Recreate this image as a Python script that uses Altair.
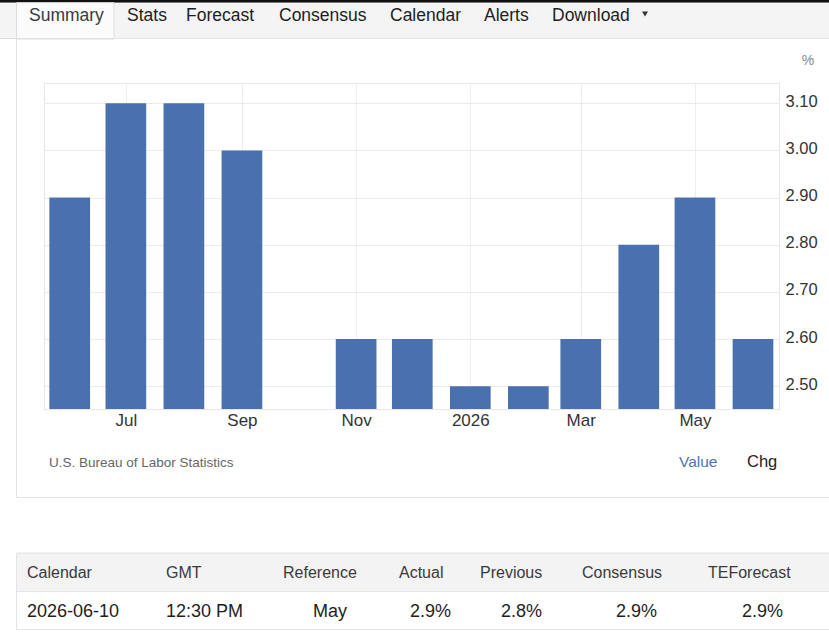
import altair as alt
import pandas as pd

# ---------------- data ----------------
months = ["2025-06-01", "2025-07-01", "2025-08-01", "2025-09-01",
          "2025-11-01", "2025-12-01", "2026-01-01", "2026-02-01",
          "2026-03-01", "2026-04-01", "2026-05-01", "2026-06-01"]
values = [2.9, 3.1, 3.1, 3.0, 2.6, 2.6, 2.5, 2.5, 2.6, 2.8, 2.9, 2.6]
x_tick_dates = ["2025-07-01", "2025-09-01", "2025-11-01",
                "2026-01-01", "2026-03-01", "2026-05-01"]
y_ticks = [2.5, 2.6, 2.7, 2.8, 2.9, 3.0, 3.1]
tabs = ["Summary", "Stats", "Forecast", "Consensus", "Calendar", "Alerts", "Download"]
table_headers = ["Calendar", "GMT", "Reference", "Actual", "Previous", "Consensus", "TEForecast"]
table_row = ["2026-06-10", "12:30 PM", "May", "2.9%", "2.8%", "2.9%", "2.9%"]
source_text = "U.S. Bureau of Labor Statistics"
unit_text = "%"
toggles = ["Value", "Chg"]

# ---------------- layout ----------------
FONT = "Liberation Sans, Arial, Helvetica, sans-serif"
W, H = 829, 636
OX, OY = 44, 83          # plot-area origin on the page
PW, PH = 735, 326        # plot-area size
BAR = "#4a71ae"

tab_x = [29, 127, 186, 279, 390, 484, 552]
head_x = [27, 166, 283, 399, 480, 582, 708]
row_pos = [(27, "left"), (166, "left"), (330, "center"), (451, "right"),
           (542, "right"), (657, "right"), (783, "right")]

df = pd.DataFrame({"month": months, "value": values})
one = alt.Data(values=[{"k": 1}])


def dt(s, h=0, m=0):
    y, mo, d = map(int, s.split("-"))
    return alt.DateTime(year=y, month=mo, date=d, hours=h, minutes=m, utc=True)


def rect(x1, y1, x2, y2, **style):
    return alt.Chart(one).mark_rect(**style).encode(
        x=alt.value(x1 - OX), x2=alt.value(x2 - OX),
        y=alt.value(y1 - OY), y2=alt.value(y2 - OY))


def hline(x1, x2, y, color):
    return alt.Chart(one).mark_rule(color=color, strokeWidth=1).encode(
        x=alt.value(x1 - OX), x2=alt.value(x2 - OX), y=alt.value(y - OY))


def vline(x, y1, y2, color):
    return alt.Chart(one).mark_rule(color=color, strokeWidth=1).encode(
        x=alt.value(x - OX), y=alt.value(y1 - OY), y2=alt.value(y2 - OY))


def text(s, x, y, size, color, align="left"):
    return alt.Chart(one).mark_text(
        text=s, align=align, baseline="middle", fontSize=size,
        color=color, font=FONT).encode(x=alt.value(x - OX), y=alt.value(y - OY))


layers = []
# top strip and tab bar
layers.append(rect(0, 0, W + 20, 2.7, fill="#111111"))
layers.append(rect(0, 2.7, W + 20, 38.5, fill="#f4f4f4"))
layers.append(hline(0, W + 20, 38.5, "#dddddd"))
layers.append(rect(16.5, 2.7, 114, 39, fill="#fbfbfb", stroke="#dddddd", strokeWidth=1))
for name, x in zip(tabs, tab_x):
    layers.append(text(name, x, 16, 17.5, "#3a3a3a" if name == "Summary" else "#1e1e1e"))
layers.append(alt.Chart(one).mark_point(shape="triangle-down", filled=True, size=36,
                                        color="#333333", opacity=1).encode(
    x=alt.value(645 - OX), y=alt.value(14 - OY)))

# chart panel
layers.append(rect(16.5, 38.5, W + 20, 497.5, fill="white", fillOpacity=0,
                   stroke="#e2e2e2", strokeWidth=1))
layers.append(text(unit_text, 808, 61, 14, "#888888", align="center"))
layers.append(text(source_text, 49, 462.5, 13.5, "#666666"))
layers.append(text(toggles[0], 679, 462, 15.5, "#4f74a8"))
layers.append(text(toggles[1], 747, 462, 16.5, "#222222"))

# table
layers.append(rect(16.5, 553, W + 20, 591, fill="#f3f3f3"))
layers.append(hline(16.5, W + 20, 553, "#e2e2e2"))
layers.append(hline(16.5, W + 20, 591.5, "#e4e4e4"))
layers.append(hline(16.5, W + 20, 629.5, "#e4e4e4"))
layers.append(vline(16.5, 553, 630, "#e4e4e4"))
for s, x in zip(table_headers, head_x):
    layers.append(text(s, x, 573, 16, "#3a3a3a"))
for s, (x, a) in zip(table_row, row_pos):
    layers.append(text(s, x, 612, 18, "#1e1e1e", align=a))

# ---------------- bar chart ----------------
x_scale = alt.Scale(type="utc", nice=False, padding=0,
                    domain=[alt.DateTime(year=2025, month=5, date=18, hours=6, minutes=30, utc=True),
                            alt.DateTime(year=2026, month=6, date=14, hours=21, minutes=30, utc=True)])
Y_MIN, Y_MAX = 2.4517, 3.143
y_scale = alt.Scale(domain=[Y_MIN, Y_MAX], zero=False, nice=False, padding=0)

bars = alt.Chart(df).mark_bar(size=40.7, color=BAR).encode(
    x=alt.X("month:T", scale=x_scale,
            axis=alt.Axis(values=[dt(s) for s in x_tick_dates], title=None,
                          labelExpr="utcFormat(datum.value, '%m') == '01' ? utcFormat(datum.value, '%Y') : utcFormat(datum.value, '%b')",
                          domain=False, ticks=False, labelPadding=3, labelFontSize=17,
                          labelColor="#333333", labelFont=FONT, grid=True,
                          gridColor="#eeeeee", labelFlush=False, labelOverlap=False)),
    y=alt.Y("value:Q", scale=y_scale,
            axis=alt.Axis(orient="right", values=y_ticks, format=".2f", title=None,
                          domain=False, ticks=False, labelPadding=6, labelFontSize=16.5,
                          labelColor="#333333", labelFont=FONT, grid=True,
                          gridColor="#ebebeb", labelOffset=-2, labelFlush=False,
                          labelOverlap=False)),
    y2=alt.datum(Y_MIN),
)

chart = alt.layer(*layers, bars).properties(
    width=PW, height=PH,
    padding={"left": OX, "top": OY, "right": W - OX - PW, "bottom": H - OY - PH},
    autosize=alt.AutoSizeParams(type="none"),
    background="white",
).configure_view(stroke="#e6e6e6", strokeWidth=1)

chart.save("out.html", embed_options={"renderer": "svg", "actions": False})
